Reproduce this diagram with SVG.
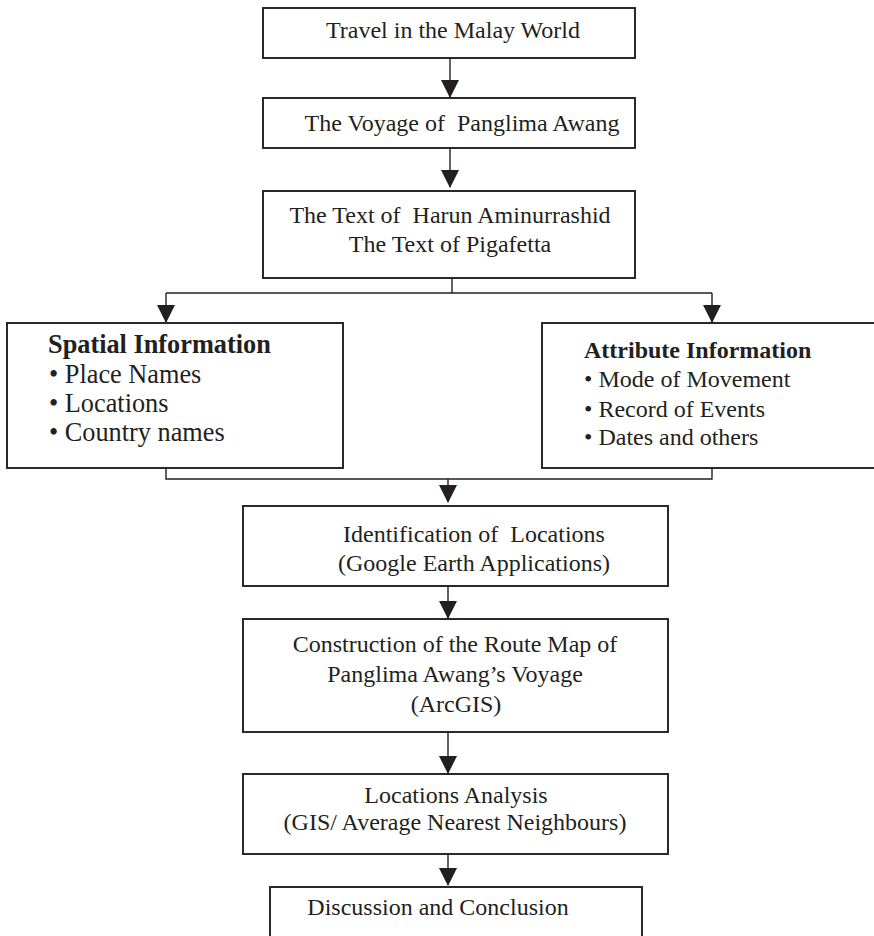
<svg xmlns="http://www.w3.org/2000/svg" width="874" height="936" viewBox="0 0 874 936">
<style>
.box{fill:#fff;stroke:#231f20;stroke-width:1.9}
.t{font-family:"Liberation Serif","Times New Roman",serif;font-size:24px;fill:#231f20}
.lg{font-size:26.3px}
.c{text-anchor:middle}
.b{font-weight:bold}
.ln{fill:none;stroke:#231f20;stroke-width:1.4}
</style>
<defs>
<marker id="ah" markerUnits="userSpaceOnUse" markerWidth="18" markerHeight="18" refX="17" refY="9" orient="auto" viewBox="0 0 18 18">
<path d="M0,0 L18,9 L0,18 z" fill="#231f20"/>
</marker>
</defs>
<rect width="874" height="936" fill="#fff"/>
<g id="connectors">
<line class="ln" x1="450" y1="58" x2="450" y2="97" marker-end="url(#ah)"/>
<line class="ln" x1="450" y1="148" x2="450" y2="187" marker-end="url(#ah)"/>
<polyline class="ln" points="452,278 452,293"/>
<line class="ln" x1="166" y1="293" x2="712" y2="293"/>
<line class="ln" x1="166" y1="293" x2="166" y2="322" marker-end="url(#ah)"/>
<line class="ln" x1="712" y1="293" x2="712" y2="322" marker-end="url(#ah)"/>
<polyline class="ln" points="166,468 166,479 712,479 712,468"/>
<line class="ln" x1="448" y1="479" x2="448" y2="502" marker-end="url(#ah)"/>
<line class="ln" x1="448" y1="586" x2="448" y2="618" marker-end="url(#ah)"/>
<line class="ln" x1="448" y1="732" x2="448" y2="773" marker-end="url(#ah)"/>
<line class="ln" x1="448" y1="854" x2="448" y2="885" marker-end="url(#ah)"/>
</g>
<g id="n1">
<rect class="box" x="263" y="8" width="372" height="50"/>
<text class="t c" x="453" y="38">Travel in the Malay World</text>
</g>
<g id="n2">
<rect class="box" x="263" y="98" width="372" height="50"/>
<text class="t c" x="462" y="131" font-size="24.5" xml:space="preserve">The Voyage of  Panglima Awang</text>
</g>
<g id="n3">
<rect class="box" x="263" y="191" width="372" height="87"/>
<text class="t c" x="450" y="223" xml:space="preserve">The Text of  Harun Aminurrashid</text>
<text class="t c" x="450" y="252">The Text of Pigafetta</text>
</g>
<g id="n4">
<rect class="box" x="7" y="323" width="336" height="145"/>
<text class="t lg b" x="48" y="353">Spatial Information</text>
<text class="t lg" x="49" y="383">• Place Names</text>
<text class="t lg" x="49" y="412">• Locations</text>
<text class="t lg" x="49" y="441">• Country names</text>
</g>
<g id="n5">
<rect class="box" x="542" y="323" width="345" height="145"/>
<text class="t b" x="584" y="358">Attribute Information</text>
<text class="t" x="584" y="387">• Mode of Movement</text>
<text class="t" x="584" y="417">• Record of Events</text>
<text class="t" x="584" y="445">• Dates and others</text>
</g>
<g id="n6">
<rect class="box" x="243" y="506" width="425" height="80"/>
<text class="t c" x="474" y="542" xml:space="preserve">Identification of  Locations</text>
<text class="t c" x="474" y="571">(Google Earth Applications)</text>
</g>
<g id="n7">
<rect class="box" x="243" y="619" width="425" height="113"/>
<text class="t c" x="455" y="652">Construction of the Route Map of</text>
<text class="t c" x="455" y="682">Panglima Awang’s Voyage</text>
<text class="t c" x="456" y="712">(ArcGIS)</text>
</g>
<g id="n8">
<rect class="box" x="243" y="774" width="425" height="80"/>
<text class="t c" x="456" y="803">Locations Analysis</text>
<text class="t c" x="455" y="830">(GIS/ Average Nearest Neighbours)</text>
</g>
<g id="n9">
<rect class="box" x="270" y="887" width="372" height="60"/>
<text class="t c" x="438" y="915">Discussion and Conclusion</text>
</g>
</svg>
